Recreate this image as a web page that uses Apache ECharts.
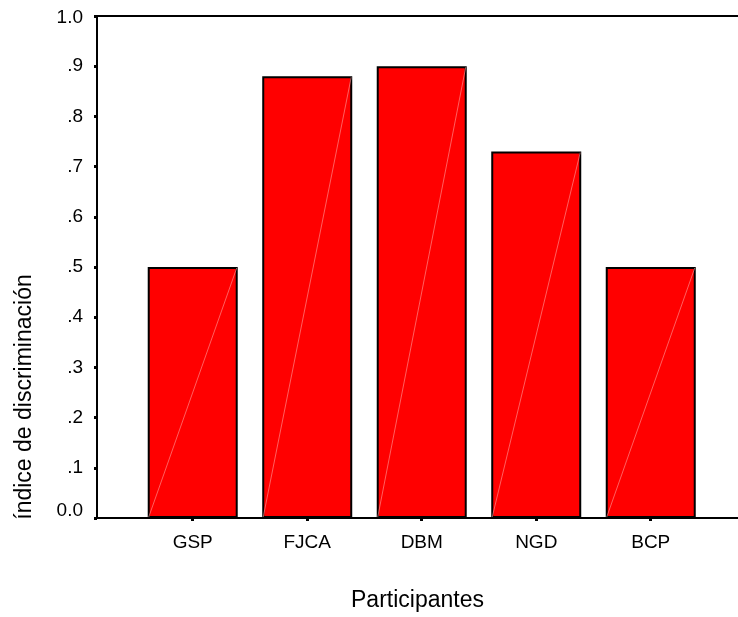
<!DOCTYPE html>
<html>
<head>
<meta charset="utf-8">
<script src="https://cdn.jsdelivr.net/npm/echarts@6/dist/echarts.min.js"></script>
<style>html,body{margin:0;padding:0;background:#fff;}#c{width:738px;height:617px;}</style>
</head>
<body>
<div id="c"></div>
<script>
var categories = ['GSP', 'FJCA', 'DBM', 'NGD', 'BCP'];
var values = [0.50, 0.88, 0.90, 0.73, 0.50];
var yTickLabels = ['0.0', '.1', '.2', '.3', '.4', '.5', '.6', '.7', '.8', '.9', '1.0'];

var positions = categories.map(function (c, i) { return i; });
var barData = values.map(function (v, i) { return [positions[i], v]; });
var FONT = 'Liberation Sans, Arial, sans-serif';

var chart = echarts.init(document.getElementById('c'), null, { renderer: 'canvas' });
chart.setOption({
  animation: false,
  backgroundColor: '#ffffff',
  grid: { left: 97, right: 0, top: 16, bottom: 95, containLabel: false },
  xAxis: [{
    type: 'value',
    min: -0.836,
    max: 4.762,
    position: 'bottom',
    splitLine: { show: false },
    axisLine: { show: true, onZero: false, lineStyle: { color: '#000', width: 2 } },
    axisTick: { show: true, inside: false, length: 3, customValues: positions, lineStyle: { color: '#000', width: 3 } },
    axisLabel: {
      show: true, margin: 15, customValues: positions,
      color: '#000', fontSize: 19, fontFamily: FONT,
      formatter: function (v) { return categories[Math.round(v)]; }
    },
    name: 'Participantes',
    nameLocation: 'middle',
    nameGap: 71,
    nameTextStyle: { color: '#000', fontSize: 23, fontFamily: FONT }
  }, {
    type: 'value',
    min: -0.836,
    max: 4.762,
    position: 'top',
    splitLine: { show: false },
    axisLine: { show: true, onZero: false, lineStyle: { color: '#000', width: 2 } },
    axisTick: { show: false },
    axisLabel: { show: false }
  }],
  yAxis: {
    type: 'value',
    min: 0,
    max: 1,
    interval: 0.1,
    splitLine: { show: false },
    axisLine: { show: true, onZero: false, lineStyle: { color: '#000', width: 2 } },
    axisTick: { show: true, length: 3, lineStyle: { color: '#000', width: 3 } },
    axisLabel: {
      margin: 14, color: '#000', fontSize: 19, fontFamily: FONT,
      formatter: function (v) {
        var i = Math.round(v * 10);
        if (i === 0) return '{z|' + yTickLabels[i] + '}';
        if (i === 10) return '{t|' + yTickLabels[i] + '}';
        return yTickLabels[i];
      },
      rich: {
        z: { fontSize: 19, fontFamily: FONT, color: '#000', padding: [0, 0, 14, 0] },
        t: { fontSize: 19, fontFamily: FONT, color: '#000', padding: [4, 0, 0, 0] }
      }
    }
  },
  graphic: [{
    type: 'text',
    x: 25,
    y: 397,
    rotation: Math.PI / 2,
    style: {
      text: 'índice de discriminación',
      fill: '#000',
      font: '23px Liberation Sans, Arial, sans-serif',
      align: 'center',
      verticalAlign: 'middle'
    }
  }],
  series: [{
    type: 'bar',
    xAxisIndex: 0,
    data: barData,
    barWidth: 90,
    itemStyle: { color: '#ff0000', borderColor: '#000', borderWidth: 2 }
  }, {
    type: 'custom',
    xAxisIndex: 0,
    data: barData,
    z: 5,
    silent: true,
    renderItem: function (params, api) {
      var top = api.coord([api.value(0), api.value(1)]);
      var bot = api.coord([api.value(0), 0]);
      return {
        type: 'line',
        shape: { x1: bot[0] - 44, y1: bot[1] - 1, x2: top[0] + 44, y2: top[1] + 1 },
        style: { stroke: 'rgba(255,170,170,0.8)', lineWidth: 0.7 }
      };
    }
  }]
});
</script>
</body>
</html>
